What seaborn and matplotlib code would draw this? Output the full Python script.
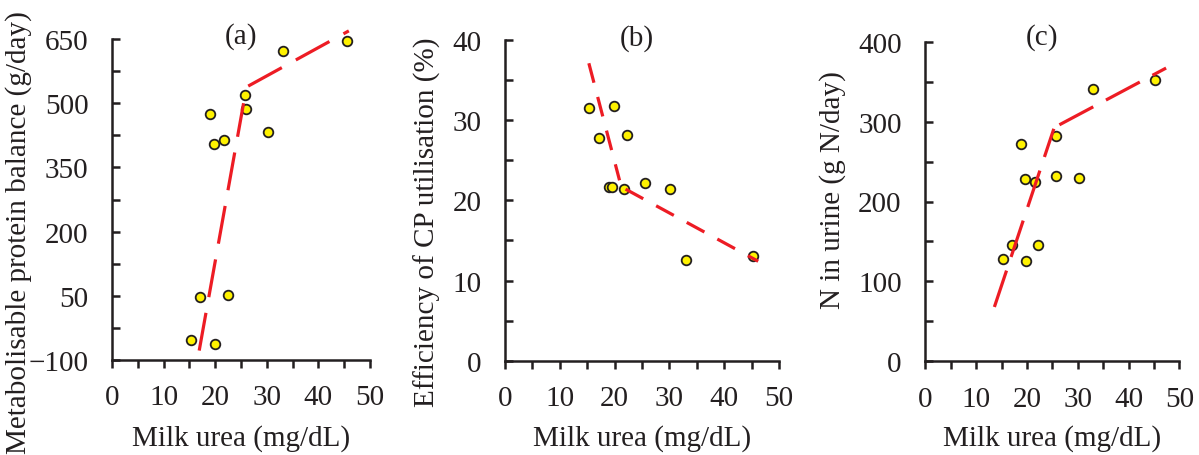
import matplotlib
matplotlib.use("Agg")
import matplotlib.pyplot as plt
import seaborn as sns
import pandas as pd
import numpy as np
from matplotlib.ticker import FixedLocator

# ---- data ----
milk_urea = [15.3, 20.0, 17.1, 22.4, 19.0, 19.7, 21.7, 25.7, 25.9, 30.2, 33.2, 45.5]
mp_balance = [-53, -62, 47, 52, 474, 405, 415, 519, 486, 433, 622, 646]

milk_urea_b = [15.3, 19.95, 17.15, 22.3, 18.9, 19.6, 21.7, 25.6, 30.2, 33.0, 45.3]
cp_eff = [31.5, 31.8, 27.8, 28.15, 21.7, 21.7, 21.4, 22.2, 21.4, 12.6, 13.1]

milk_urea_c = [15.2, 19.9, 17.0, 22.2, 18.8, 19.55, 21.65, 25.65, 30.25, 25.7, 33.1, 45.3]
n_urine = [128, 125, 145, 146, 272, 228, 225, 232, 230, 282, 341, 352]

# broken-line fits: two segments per panel
fit_a_x1, fit_a_y1 = [16.9, 25.5], [-78, 500]
fit_a_x2, fit_a_y2 = [26.4, 45.9], [540, 669]
fit_b_x1, fit_b_y1 = [15.3, 20.9], [37.1, 22.5]
fit_b_x2, fit_b_y2 = [22.0, 46.2], [21.4, 12.4]
fit_c_x1, fit_c_y1 = [13.6, 25.3], [68, 291]
fit_c_x2, fit_c_y2 = [26.4, 47.4], [296, 367]

x_ticks = [0, 10, 20, 30, 40, 50]
y_ticks_a = [-100, 50, 200, 350, 500, 650]
y_ticks_b = [0, 10, 20, 30, 40]
y_ticks_c = [0, 100, 200, 300, 400]

panel_labels = ["(a)", "(b)", "(c)"]
x_label = "Milk urea (mg/dL)"
y_labels = ["Metabolisable protein balance (g/day)",
            "Efficiency of CP utilisation (%)",
            "N in urine (g N/day)"]

# ---- style ----
sns.set_style("ticks")
plt.rcParams["font.family"] = ["Liberation Serif", "DejaVu Serif"]
TXT = "#231f20"
plt.rcParams["text.color"] = TXT
plt.rcParams["axes.labelcolor"] = TXT
plt.rcParams["xtick.color"] = TXT
plt.rcParams["ytick.color"] = TXT
FS = 21
YELLOW = "#fff200"
RED = "#ed1c24"

fig = plt.figure(figsize=(11.99, 4.56), dpi=100)
W, H = 1199, 456
def rect(l, r, t, b):
    return [l / W, 1 - b / H, (r - l) / W, (b - t) / H]

ax_a = fig.add_axes(rect(112, 370, 40, 361))
ax_b = fig.add_axes(rect(505, 779, 41, 361.7))
ax_c = fig.add_axes(rect(925.3, 1179.3, 42.7, 362.3))

panels = [
    (ax_a, milk_urea, mp_balance, [(fit_a_x1, fit_a_y1, (12, 5)), (fit_a_x2, fit_a_y2, (12, 5))],
     y_ticks_a, (-0.362, 0.40), (0.5, 1.012)),
    (ax_b, milk_urea_b, cp_eff, [(fit_b_x1, fit_b_y1, (6.3, 4.6)), (fit_b_x2, fit_b_y2, (6.3, 4.6))],
     y_ticks_b, (-0.285, 0.436), (0.482, 1.008)),
    (ax_c, milk_urea_c, n_urine, [(fit_c_x1, fit_c_y1, (12, 4.5)), (fit_c_x2, fit_c_y2, (12, 4.5))],
     y_ticks_c, (-0.366, 0.539), (0.459, 1.015)),
]

for i, (ax, xs, ys, fits, yt, ylc, tpos) in enumerate(panels):
    df = pd.DataFrame({"x": xs, "y": ys})
    sns.scatterplot(data=df, x="x", y="y", ax=ax, s=48, color=YELLOW,
                    edgecolor="#231f20", linewidth=1.3, zorder=3, clip_on=False)
    for fx, fy, dash in fits:
        dfl = pd.DataFrame({"x": fx, "y": fy})
        sns.lineplot(data=dfl, x="x", y="y", ax=ax, color=RED, linewidth=2.3,
                     dashes=False, sort=False, zorder=4, clip_on=False)
        ax.lines[-1].set_dashes(dash)
        ax.lines[-1].set_dash_capstyle("butt")

    ax.set_xlim(x_ticks[0], x_ticks[-1])
    ax.set_ylim(yt[0], yt[-1])
    ax.xaxis.set_major_locator(FixedLocator(x_ticks))
    ax.xaxis.set_minor_locator(FixedLocator(
        [(a + b) / 2 for a, b in zip(x_ticks[:-1], x_ticks[1:])]))
    ax.yaxis.set_major_locator(FixedLocator(yt))
    ax.yaxis.set_minor_locator(FixedLocator(
        [(a + b) / 2 for a, b in zip(yt[:-1], yt[1:])]))
    for s in ["top", "right"]:
        ax.spines[s].set_visible(False)
    for s in ["left", "bottom"]:
        ax.spines[s].set_linewidth(1.8)
        ax.spines[s].set_color(TXT)
    ax.tick_params(axis="x", which="both", direction="out", length=5.5, width=1.8,
                   labelsize=FS, pad=12)
    ax.tick_params(axis="y", which="both", direction="in", length=5.5, width=1.8,
                   labelsize=FS, pad=17)
    ax.set_xlabel(x_label, fontsize=FS, va="center")
    ax.xaxis.set_label_coords(0.5, -0.24)
    ax.set_ylabel(y_labels[i], fontsize=FS, va="center", ha="center")
    ax.yaxis.set_label_coords(*ylc)
    ax.text(tpos[0], tpos[1], panel_labels[i], transform=ax.transAxes,
            ha="center", va="center", fontsize=FS)
    ax.set_facecolor("white")

fig.savefig("out.png", dpi=100, facecolor="white")
